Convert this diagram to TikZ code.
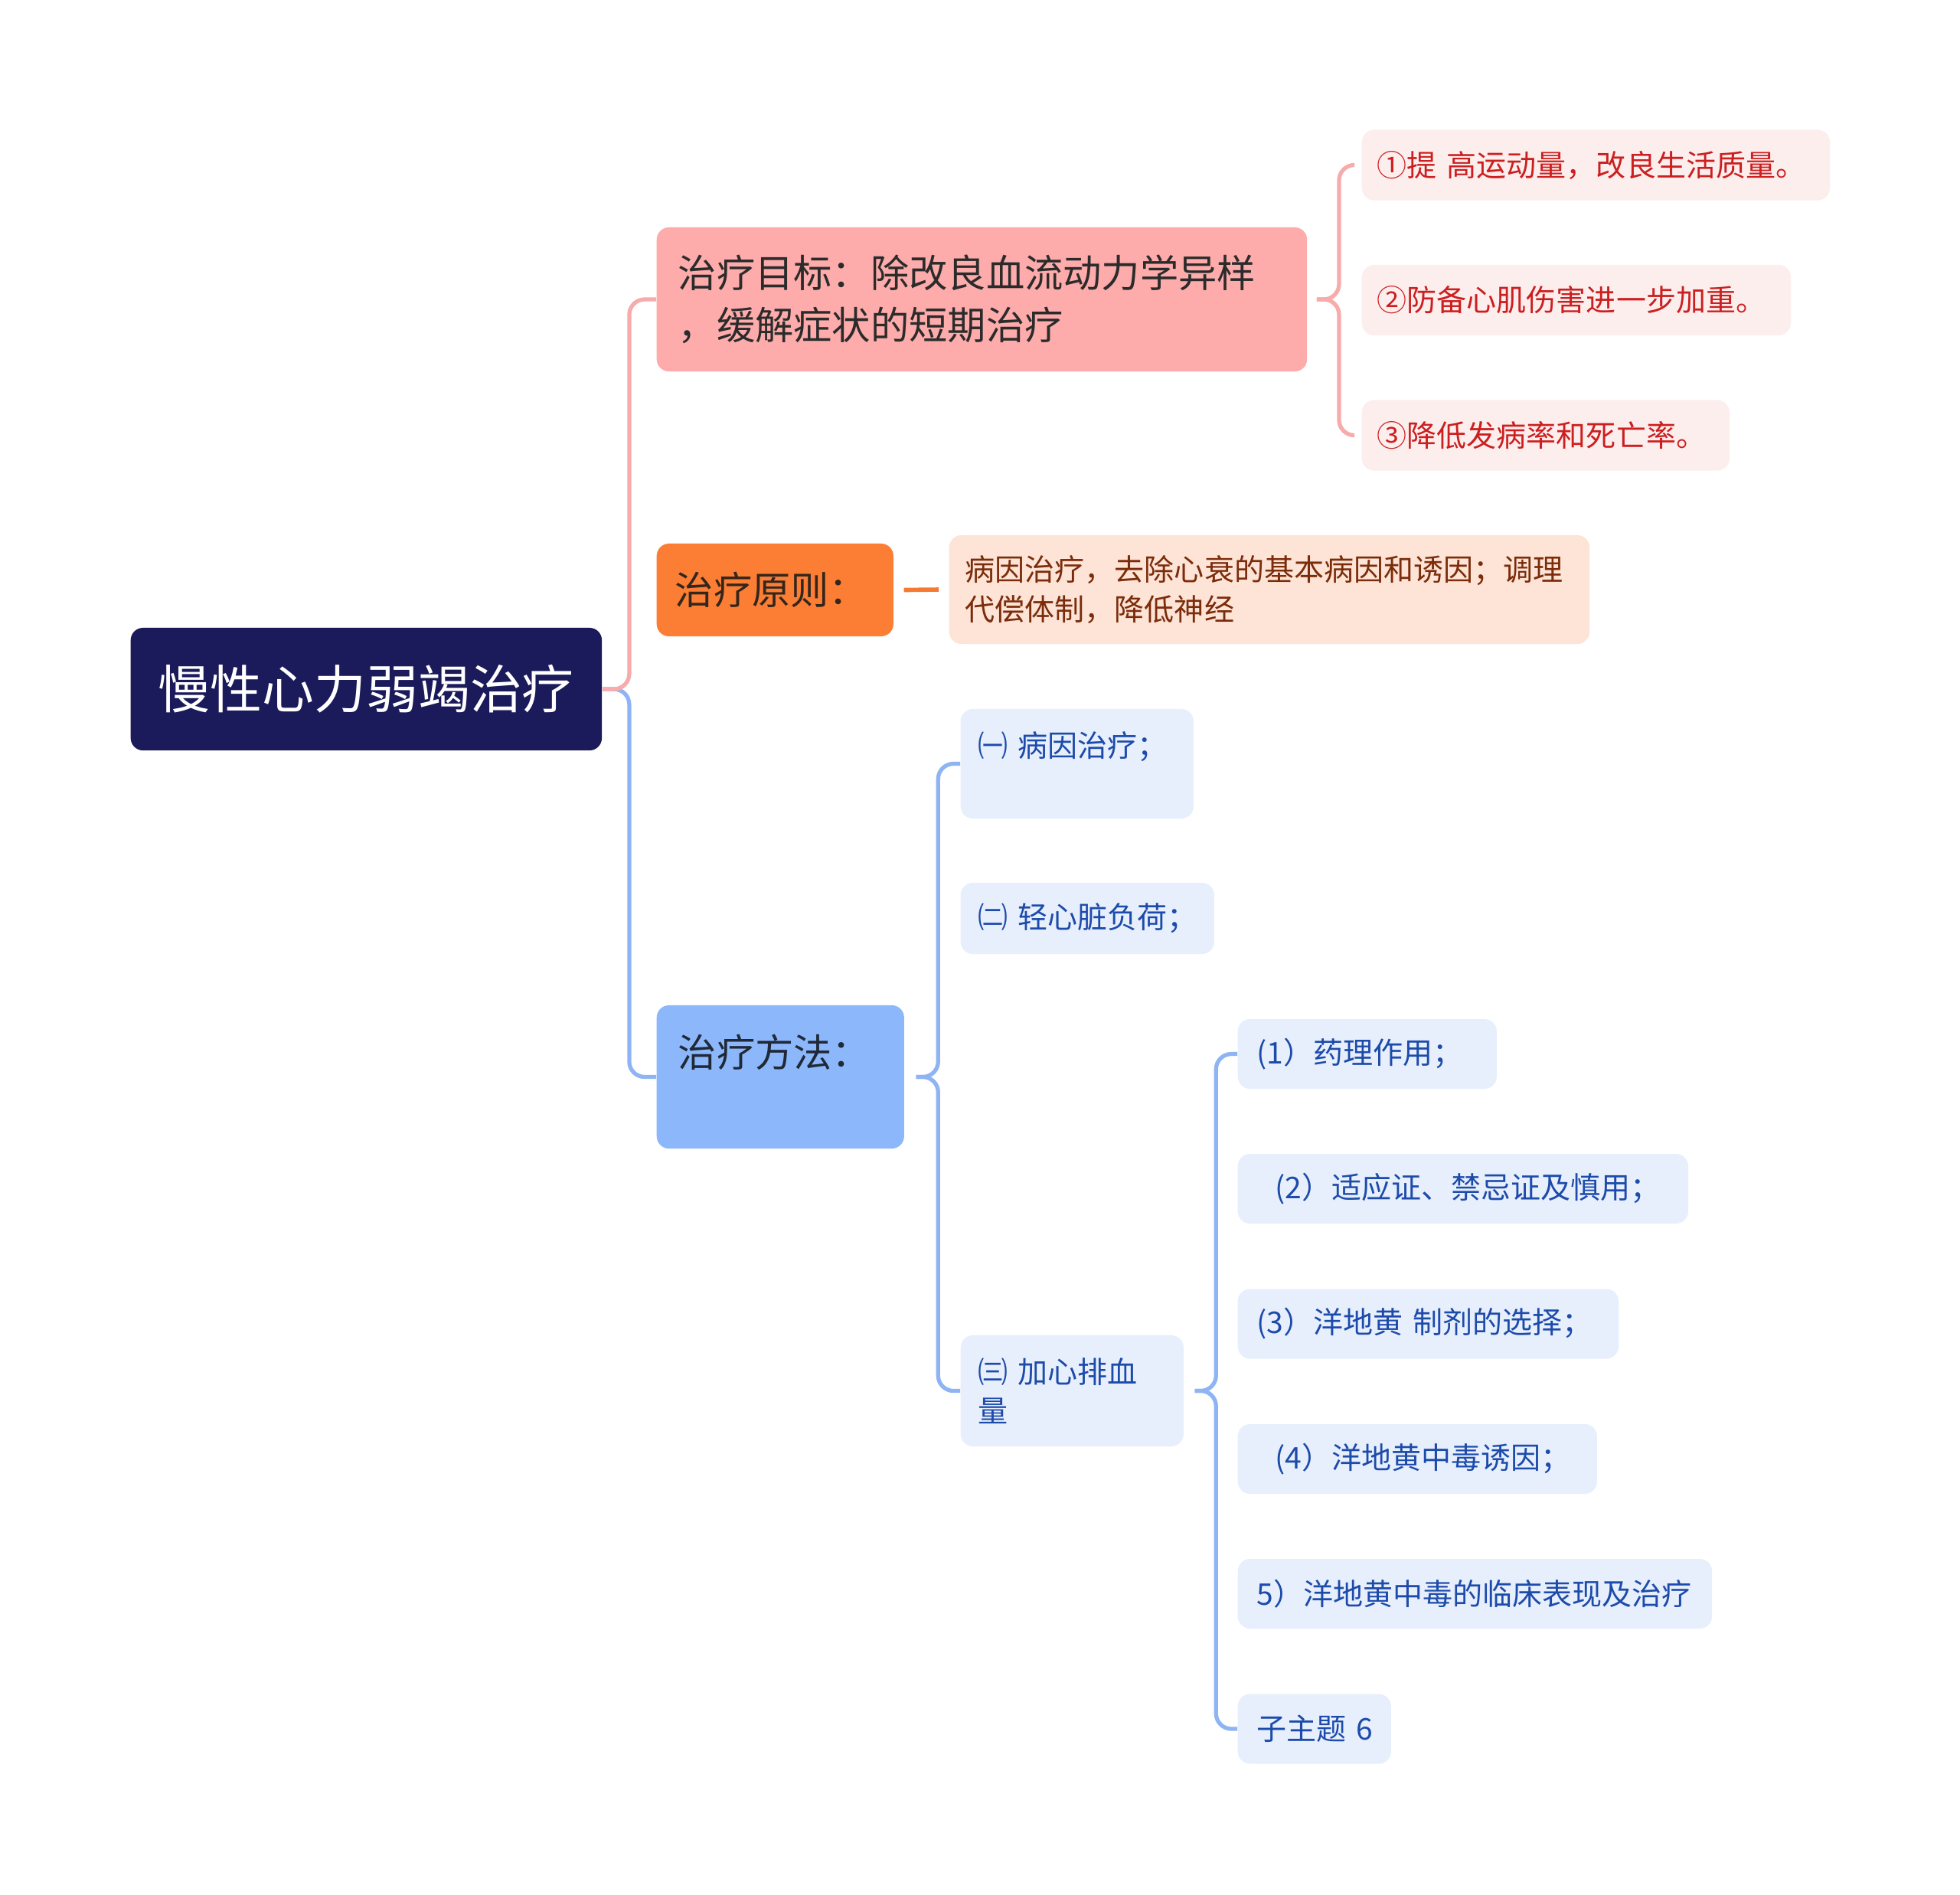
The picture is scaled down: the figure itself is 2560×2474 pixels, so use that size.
\documentclass[tikz,border=0pt]{standalone}
\usepackage{fontspec}
\setmainfont{Noto Sans CJK SC}
\usetikzlibrary{calc}
\definecolor{rootc}{HTML}{1B1A5A}
\definecolor{goalc}{HTML}{FDABAB}
\definecolor{goaltext}{HTML}{2B2B2B}
\definecolor{gchild}{HTML}{FDEEEE}
\definecolor{gchildtext}{HTML}{CC1F1F}
\definecolor{princ}{HTML}{FC7E34}
\definecolor{printext}{HTML}{33261C}
\definecolor{princhild}{HTML}{FDE4D6}
\definecolor{princhildtext}{HTML}{7B2C0B}
\definecolor{methc}{HTML}{8DB7FB}
\definecolor{methtext}{HTML}{1F2937}
\definecolor{mchild}{HTML}{E7EFFD}
\definecolor{mchildtext}{HTML}{1D4BAA}
\definecolor{pinkline}{HTML}{F7ABAB}
\definecolor{blueline}{HTML}{8FB4F4}
\definecolor{orangeline}{HTML}{F57A31}
\begin{document}
\begin{tikzpicture}[x=0.01cm,y=-0.01cm,
  box/.style={rounded corners=0.16cm, inner ysep=0pt, align=left, anchor=west},
  bigfont/.style={font=\fontsize{14.3}{19.5}\selectfont},
  smallfont/.style={font=\fontsize{11.1}{14.6}\selectfont},
  rootbox/.style={rounded corners=0.16cm, inner sep=0pt, anchor=west, fill=rootc, text=white,
    font=\fontsize{19.3}{24}\selectfont, minimum width=6.15cm, minimum height=1.6cm},
  goalbox/.style={box, bigfont, fill=goalc, text=goaltext, inner xsep=0.28cm},
  prinbox/.style={box, bigfont, fill=princ, text=printext, inner xsep=0.24cm},
  methbox/.style={box, bigfont, fill=methc, text=methtext, inner xsep=0.28cm},
  gbox/.style={box, smallfont, fill=gchild, text=gchildtext, inner xsep=0.2cm, minimum height=0.92cm},
  pcbox/.style={box, smallfont, fill=princhild, text=princhildtext, inner xsep=0.21cm},
  mbox/.style={box, smallfont, fill=mchild, text=mchildtext, inner xsep=0.23cm},
  sbox/.style={box, smallfont, fill=mchild, text=mchildtext, inner xsep=0.25cm, minimum height=0.91cm},
  pk/.style={draw=pinkline, line width=1.5pt, rounded corners=0.2cm},
  bl/.style={draw=blueline, line width=1.5pt, rounded corners=0.2cm},
  og/.style={draw=orangeline, line width=1.6pt}
]
\fill[white] (0,0) rectangle (2560,2474);
\useasboundingbox (0,0) rectangle (2560,2474);

% root
\node[rootbox] (root) at (170,900) {慢性心力弱竭治疗};

% level 1
\node[goalbox, text width=7.93cm, minimum height=1.88cm] (goal) at (857,391)
  {治疗目标：除改良血流动力学异样\\，缓解症状的短期治疗};
\node[prinbox, text width=2.61cm, minimum height=1.21cm] (prin) at (857,770.5) {治疗原则：};
\node[methbox, text width=2.67cm, minimum height=1.87cm] (meth) at (857,1406.5) {治疗方法：\\\mbox{}};

% goal children
\node[gbox, text width=5.71cm] (g1) at (1778,215.5) {①提~高运动量，改良生活质量。};
\node[gbox, text width=5.20cm] (g2) at (1778,392) {②防备心肌伤害进一步加重。};
\node[gbox, text width=4.40cm] (g3) at (1778,568.5) {③降低发病率和死亡率。};

% principle child
\node[pcbox, text width=7.94cm, minimum height=1.42cm] (pc) at (1239,770)
  {病因治疗，去除心衰的基本病因和诱因；调理\\代偿体制，降低神经};

% method children
\node[mbox, text width=2.58cm, minimum height=1.43cm] (m1) at (1254,997.5) {㈠~病因治疗；\\\mbox{}};
\node[mbox, text width=2.85cm, minimum height=0.93cm] (m2) at (1254,1199.5) {㈡~轻心脏负荷；};
\node[mbox, text width=2.45cm, minimum height=1.45cm] (m3) at (1254,1816.5) {㈢~加心排血\\量};

% m3 children
\node[sbox, text width=2.88cm] (s1) at (1616,1376.5) {(1）药理作用；};
\node[sbox, text width=5.38cm] (s2) at (1616,1552.5) {\hspace*{0.24cm}(2）适应证、禁忌证及慎用；};
\node[sbox, text width=4.47cm] (s3) at (1616,1729) {(3）洋地黄~制剂的选择；};
\node[sbox, text width=4.19cm] (s4) at (1616,1905.5) {\hspace*{0.24cm}(4）洋地黄中毒诱因；};
\node[sbox, text width=5.69cm] (s5) at (1616,2081.5) {5）洋地黄中毒的临床表现及治疗};
\node[sbox, text width=1.50cm] (s6) at (1616,2258) {子主题~6};

% root connectors
\draw[bl] (root.east) -| ($(root.east)!0.5!(meth.west)$) |- (meth.west);
\draw[pk] (root.east) -| ($(root.east)!0.5!(goal.west)$) |- (goal.west);

% goal brace
\coordinate (gt) at ($(goal.east)+(12,0)$);
\draw[pk] (gt) -| ($(gt)!0.5!(g1.west)$) |- ($(g1.west)+(-10,0)$);
\draw[pk] (gt) -| ($(gt)!0.5!(g3.west)$) |- ($(g3.west)+(-10,0)$);

% principle connector
\draw[og] ($(prin.east)+(13,0)$) -- ($(pc.west)+(-13,0)$);

% methods brace
\coordinate (mt) at ($(meth.east)+(15,0)$);
\draw[bl] (mt) -| ($(mt)!0.5!(m1.west)$) |- (m1.west);
\draw[bl] (mt) -| ($(mt)!0.5!(m3.west)$) |- (m3.west);

% m3 brace
\coordinate (st) at ($(m3.east)+(14,0)$);
\draw[bl] (st) -| ($(st)!0.5!(s1.west)$) |- (s1.west);
\draw[bl] (st) -| ($(st)!0.5!(s6.west)$) |- (s6.west);
\end{tikzpicture}
\end{document}
